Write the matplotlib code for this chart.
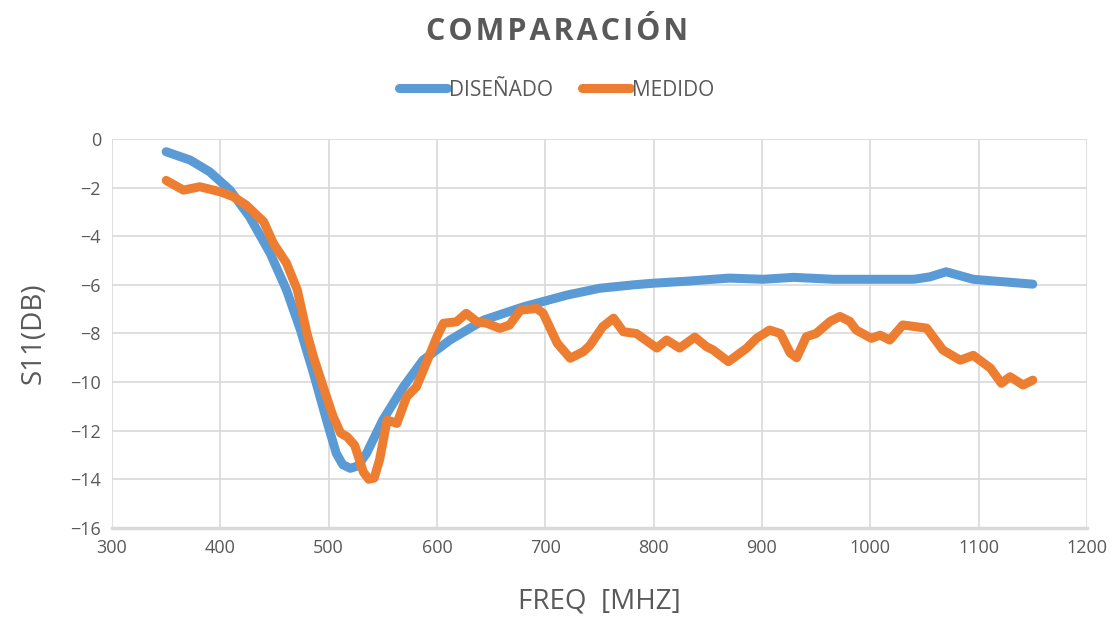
import matplotlib.pyplot as plt

plt.rcParams['font.family'] = ['Open Sans', 'DejaVu Sans']

# DISEÑADO (simulated)
freq_dis = [350, 372, 390, 409, 427, 446, 461, 474, 486, 498, 507, 513, 520,
            527, 535, 550, 569, 587, 612, 643, 680, 720, 750, 781, 800, 830,
            870, 901, 929, 966, 1040, 1055, 1070, 1095, 1150]
s11_dis = [-0.52, -0.86, -1.34, -2.1, -3.2, -4.7, -6.2, -7.86, -9.64, -11.56,
           -12.93, -13.4, -13.55, -13.45, -12.93, -11.56, -10.2, -9.1, -8.27,
           -7.45, -6.9, -6.42, -6.14, -6.0, -5.93, -5.85, -5.72, -5.77, -5.69,
           -5.77, -5.77, -5.67, -5.46, -5.77, -5.97]

# MEDIDO (measured)
freq_med = [350, 366, 381, 400, 412, 424, 440, 449, 461, 471, 480, 486, 495,
            504, 511, 517, 524, 532, 537, 542, 547, 554, 563, 572, 581, 590,
            600, 606, 618, 627, 637, 646, 658, 667, 677, 692, 698, 711, 723,
            735, 741, 753, 763, 772, 784, 803, 812, 824, 838, 849, 855, 869,
            886, 895, 907, 917, 926, 932, 941, 950, 963, 972, 981, 987, 1001,
            1009, 1018, 1030, 1052, 1067, 1083, 1095, 1111, 1121, 1129, 1141,
            1150]
s11_med = [-1.7, -2.1, -1.96, -2.17, -2.37, -2.72, -3.4, -4.29, -5.1, -6.2,
           -8.0, -8.96, -10.2, -11.4, -12.1, -12.25, -12.6, -13.7, -14.0,
           -13.95, -13.2, -11.56, -11.7, -10.6, -10.2, -9.23, -8.13, -7.58,
           -7.52, -7.17, -7.52, -7.58, -7.79, -7.65, -7.04, -6.97, -7.17, -8.4,
           -9.02, -8.75, -8.5, -7.72, -7.37, -7.93, -8.0, -8.6, -8.27, -8.6,
           -8.15, -8.55, -8.68, -9.16, -8.6, -8.2, -7.86, -8.0, -8.8, -9.0,
           -8.13, -8.0, -7.5, -7.3, -7.5, -7.86, -8.2, -8.07, -8.27, -7.65,
           -7.78, -8.68, -9.1, -8.9, -9.43, -10.05, -9.78, -10.12, -9.92]

xticks = list(range(300, 1201, 100))
yticks = list(range(-16, 1, 2))

grey = '#595959'

fig = plt.figure(figsize=(11.2, 6.21), dpi=100)
ax = fig.add_axes([0.1, 0.150, 0.8705, 0.626])

ax.plot(freq_dis, s11_dis, color='#5B9BD5', lw=6.5, solid_capstyle='round',
        solid_joinstyle='round', label='DISEÑADO')
ax.plot(freq_med, s11_med, color='#ED7D31', lw=6.5, solid_capstyle='round',
        solid_joinstyle='round', label='MEDIDO')

ax.set_xlim(300, 1200)
ax.set_ylim(-16, 0)
ax.set_xticks(xticks)
ax.set_yticks(yticks)
ax.grid(True, color='#d9d9d9', lw=1.2)
ax.set_axisbelow(True)
for s in ['top', 'right', 'left']:
    ax.spines[s].set_visible(False)
ax.spines['bottom'].set_color('#d9d9d9')
ax.spines['bottom'].set_linewidth(2.5)
ax.tick_params(length=0, labelsize=13, colors=grey, pad=8)

ax.set_xlabel('FREQ  [MHZ]', fontsize=20, color=grey, labelpad=22)
ax.set_ylabel('S11(DB)', fontsize=20, color=grey, labelpad=16)

fig.text(0.497, 0.948, '\u200a'.join('COMPARACIÓN'),
         ha='center', va='center', fontsize=22, fontweight='bold', color=grey)

leg = fig.legend(loc='center', bbox_to_anchor=(0.497, 0.855), ncol=2,
                 frameon=False, fontsize=15, handlelength=2.3,
                 handletextpad=0.1, columnspacing=1.4)
for t in leg.get_texts():
    t.set_color(grey)

fig.savefig('out.png', dpi=100, facecolor='white')
